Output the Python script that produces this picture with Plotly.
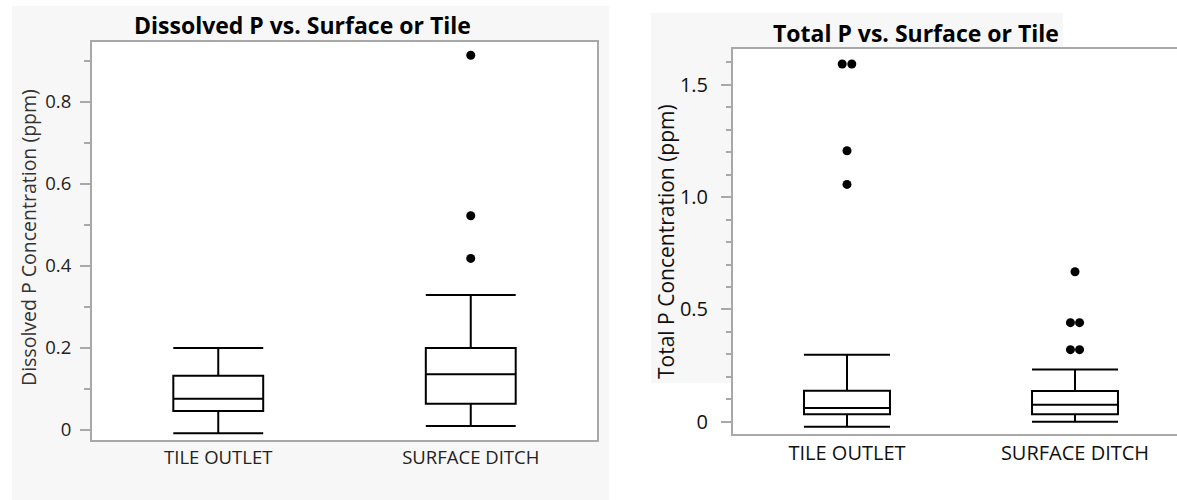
import plotly.graph_objects as go

categories = ["TILE OUTLET", "SURFACE DITCH"]
cat_pos = [0, 1]

# Dissolved P box statistics (ppm)
dp_lower = [-0.008, 0.010]
dp_q1 = [0.046, 0.064]
dp_median = [0.076, 0.136]
dp_q3 = [0.132, 0.200]
dp_upper = [0.200, 0.329]
dp_out_cat = [1, 1, 1]
dp_out_val = [0.913, 0.522, 0.418]
dp_out_jit = [0.0, 0.0, 0.0]

# Total P box statistics (ppm)
tp_lower = [-0.022, 0.000]
tp_q1 = [0.033, 0.033]
tp_median = [0.061, 0.076]
tp_q3 = [0.138, 0.137]
tp_upper = [0.298, 0.232]
tp_out_cat = [0, 0, 0, 0, 1, 1, 1, 1, 1]
tp_out_val = [1.593, 1.593, 1.207, 1.057, 0.668, 0.441, 0.441, 0.321, 0.321]
tp_out_jit = [-0.021, 0.021, 0.0, 0.0, 0.0, -0.02, 0.02, -0.02, 0.02]

dp_tickvals = [0, 0.2, 0.4, 0.6, 0.8]
dp_ticktext = ["0", "0.2", "0.4", "0.6", "0.8"]
tp_tickvals = [0, 0.5, 1.0, 1.5]
tp_ticktext = ["0", "0.5", "1.0", "1.5"]

W, H = 1177, 500
FONT = "Open Sans"
FRAME = "#a8a8a8"

def px_x(p):
    return p / W

def px_y(p):
    return 1 - p / H

fig = go.Figure()

fig.add_trace(go.Box(
    x=cat_pos, q1=dp_q1, median=dp_median, q3=dp_q3,
    lowerfence=dp_lower, upperfence=dp_upper,
    width=0.356, whiskerwidth=1, boxpoints=False,
    line=dict(color="black", width=2), fillcolor="rgba(0,0,0,0)",
    xaxis="x", yaxis="y", showlegend=False, hoverinfo="skip"))
fig.add_trace(go.Scatter(
    x=[c + j for c, j in zip(dp_out_cat, dp_out_jit)], y=dp_out_val,
    mode="markers", marker=dict(color="black", size=9),
    xaxis="x", yaxis="y", showlegend=False, hoverinfo="skip"))

fig.add_trace(go.Box(
    x=cat_pos, q1=tp_q1, median=tp_median, q3=tp_q3,
    lowerfence=tp_lower, upperfence=tp_upper,
    width=0.377, whiskerwidth=1, boxpoints=False,
    line=dict(color="black", width=2), fillcolor="rgba(0,0,0,0)",
    xaxis="x2", yaxis="y2", showlegend=False, hoverinfo="skip"))
fig.add_trace(go.Scatter(
    x=[c + j for c, j in zip(tp_out_cat, tp_out_jit)], y=tp_out_val,
    mode="markers", marker=dict(color="black", size=9),
    xaxis="x2", yaxis="y2", showlegend=False, hoverinfo="skip"))

tickfont = dict(family=FONT, size=18.5, color="#222222")
tickfont2 = dict(family=FONT, size=20, color="#111111")

fig.update_layout(
    width=W, height=H,
    margin=dict(l=0, r=0, t=0, b=0),
    paper_bgcolor="white", plot_bgcolor="white",
    showlegend=False,
    xaxis=dict(domain=[px_x(92), px_x(597)], range=[-0.5, 1.5],
               tickvals=cat_pos, ticktext=categories, ticks="",
               showline=True, linecolor=FRAME, linewidth=2, mirror=True,
               showgrid=False, zeroline=False, tickfont=tickfont, anchor="y"),
    yaxis=dict(domain=[px_y(440), px_y(42)], range=[-0.0244, 0.9454],
               tickvals=dp_tickvals, ticktext=dp_ticktext,
               ticks="outside", ticklen=10, tickcolor=FRAME, tickwidth=1.5,
               minor=dict(ticks="outside", ticklen=6, dtick=0.1, tick0=0,
                          tickcolor=FRAME, tickwidth=1.5, showgrid=False),
               ticklabelstandoff=5,
               showline=True, linecolor=FRAME, linewidth=2, mirror=True,
               showgrid=False, zeroline=False, tickfont=tickfont, anchor="x"),
    xaxis2=dict(domain=[px_x(733), 1.0], range=[-0.5, -0.5 + 444 / 228],
                tickvals=cat_pos, ticktext=categories, ticks="",
                showline=True, linecolor=FRAME, linewidth=2, mirror=True,
                showgrid=False, zeroline=False,
                tickfont=tickfont2, anchor="y2"),
    yaxis2=dict(domain=[px_y(434), px_y(49)], range=[-0.0548, 1.660],
                tickvals=tp_tickvals, ticktext=tp_ticktext,
                ticks="outside", ticklen=10, tickcolor=FRAME, tickwidth=1.5,
                minor=dict(ticks="outside", ticklen=5, dtick=0.1, tick0=0,
                           tickcolor=FRAME, tickwidth=1.5, showgrid=False),
                ticklabelstandoff=9,
                showline=True, linecolor=FRAME, linewidth=2, mirror=False,
                showgrid=False, zeroline=False,
                tickfont=tickfont2, anchor="x2"),
    shapes=[
        dict(type="rect", xref="paper", yref="paper", layer="below",
             x0=px_x(12), x1=px_x(609), y0=0, y1=px_y(6),
             fillcolor="#f7f7f7", line=dict(width=0)),
        dict(type="rect", xref="paper", yref="paper", layer="below",
             x0=px_x(651), x1=px_x(1063), y0=px_y(383), y1=px_y(13),
             fillcolor="#f7f7f7", line=dict(width=0)),
        dict(type="rect", xref="x domain", yref="y domain", layer="below",
             x0=0, x1=1, y0=0, y1=1, fillcolor="white", line=dict(width=0)),
        dict(type="rect", xref="x2 domain", yref="y2 domain", layer="below",
             x0=0, x1=1, y0=0, y1=1, fillcolor="white", line=dict(width=0)),
    ],
    annotations=[
        dict(text="<b>Dissolved P vs. Surface or Tile</b>", xref="paper", yref="paper",
             x=px_x(302), y=px_y(25), xanchor="center", yanchor="middle", showarrow=False,
             font=dict(family=FONT, size=23, color="black")),
        dict(text="<b>Total P vs. Surface or Tile</b>", xref="paper", yref="paper",
             x=px_x(916), y=px_y(33), xanchor="center", yanchor="middle", showarrow=False,
             font=dict(family=FONT, size=23, color="black")),
        dict(text="Dissolved P Concentration (ppm)", xref="paper", yref="paper",
             x=px_x(28), y=px_y(238), xanchor="center", yanchor="middle", showarrow=False,
             textangle=-90, font=dict(family=FONT, size=19.5, color="#333333")),
        dict(text="Total P Concentration (ppm)", xref="paper", yref="paper",
             x=px_x(666), y=px_y(242), xanchor="center", yanchor="middle", showarrow=False,
             textangle=-90, font=dict(family=FONT, size=21, color="#111111")),
    ],
)

fig.write_html(
    "out.html",
    config={"displayModeBar": False},
    post_script="document.body.style.margin='0';document.body.style.overflow='hidden';",
)
